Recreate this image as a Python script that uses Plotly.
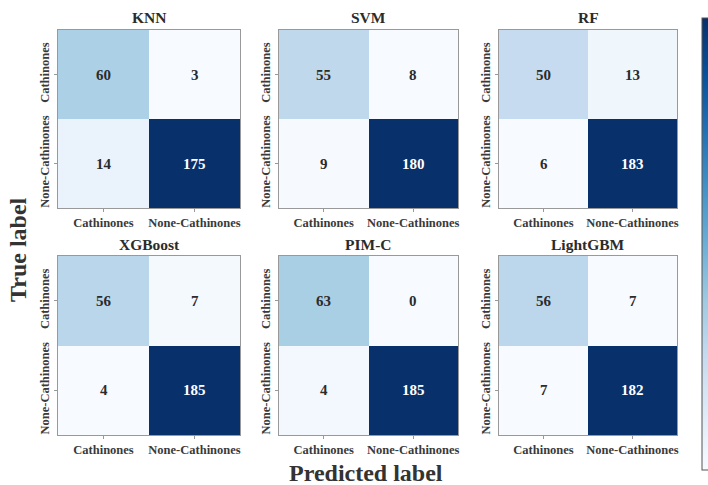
import plotly.graph_objects as go

# Confusion matrices (rows: true label, columns: predicted label)
classes = ["Cathinones", "None-Cathinones"]
models = ["KNN", "SVM", "RF", "XGBoost", "PIM-C", "LightGBM"]
cm_knn = [[60, 3], [14, 175]]
cm_svm = [[55, 8], [9, 180]]
cm_rf = [[50, 13], [6, 183]]
cm_xgb = [[56, 7], [4, 185]]
cm_pimc = [[63, 0], [4, 185]]
cm_lgbm = [[56, 7], [7, 182]]
matrices = [cm_knn, cm_svm, cm_rf, cm_xgb, cm_pimc, cm_lgbm]

W, H = 708, 485
FONT = "Liberation Serif"
blues = ["#f7fbff", "#deebf7", "#c6dbef", "#9ecae1", "#6baed6",
         "#4292c6", "#2171b5", "#08519c", "#08306b"]
colorscale = [[i / (len(blues) - 1), c] for i, c in enumerate(blues)]

# panel boxes in pixels: (left, right, top, bottom)
cols = [(58, 240), (279, 458), (499, 677)]
rows = [(30, 208), (256, 435)]

fig = go.Figure()
annotations = []
layout_axes = {}

for k, (name, cm) in enumerate(zip(models, matrices)):
    r, c = divmod(k, 3)
    x0, x1 = cols[c]
    y0, y1 = rows[r]
    ax = "" if k == 0 else str(k + 1)
    flat = [v for row in cm for v in row]
    zmin, zmax = min(flat), max(flat)
    trace = go.Heatmap(
        z=cm, x=classes, y=classes,
        colorscale=colorscale, zmin=zmin, zmax=zmax,
        xaxis="x" + ax, yaxis="y" + ax,
        showscale=(k == 0), hoverinfo="skip",
    )
    if k == 0:
        trace.colorbar = dict(
            x=702 / W, xanchor="left", xref="paper", xpad=0,
            y=1 - 18 / H, yanchor="top", yref="paper", ypad=0,
            lenmode="pixels", len=452, thickness=30,
            outlinewidth=1, outlinecolor="#555555",
            showticklabels=False, ticks="",
        )
    fig.add_trace(trace)

    axis_style = dict(
        showline=True, mirror=True, linecolor="#999999", linewidth=1,
        ticks="outside", ticklen=3, tickcolor="#999999",
        showgrid=False, zeroline=False,
        tickfont=dict(family=FONT, size=12.5, color="#3a3a3a", weight="bold"),
    )
    layout_axes["xaxis" + ax] = dict(
        axis_style, domain=[x0 / W, x1 / W], anchor="y" + ax,
        type="category",
    )
    layout_axes["yaxis" + ax] = dict(
        axis_style, domain=[1 - y1 / H, 1 - y0 / H], anchor="x" + ax,
        type="category", autorange="reversed", tickangle=-90,
    )

    # panel title
    annotations.append(dict(
        text=name, x=(x0 + x1) / 2 / W, y=1 - (y0 - 12) / H,
        xref="paper", yref="paper", xanchor="center", yanchor="middle",
        showarrow=False,
        font=dict(family=FONT, size=15.5, color="#2b2b2b", weight="bold"),
    ))
    # cell values
    thresh = (zmin + zmax) / 2
    for i, tl in enumerate(classes):
        for j, pl in enumerate(classes):
            v = cm[i][j]
            annotations.append(dict(
                text=str(v), x=pl, y=tl, xref="x" + ax, yref="y" + ax,
                showarrow=False,
                font=dict(family=FONT, size=15,
                          color="white" if v > thresh else "#2b2b2b",
                          weight="bold"),
            ))

annotations.append(dict(
    text="Predicted label", x=366 / W, y=1 - 473 / H,
    xref="paper", yref="paper", xanchor="center", yanchor="middle",
    showarrow=False,
    font=dict(family=FONT, size=24, color="#333333", weight="bold"),
))
annotations.append(dict(
    text="True label", x=18 / W, y=1 - 250 / H, textangle=-90,
    xref="paper", yref="paper", xanchor="center", yanchor="middle",
    showarrow=False,
    font=dict(family=FONT, size=24, color="#333333", weight="bold"),
))

fig.update_layout(
    width=W, height=H,
    margin=dict(l=0, r=0, t=0, b=0, autoexpand=False),
    paper_bgcolor="white", plot_bgcolor="white",
    annotations=annotations,
    **layout_axes,
)

fig.write_html("out.html")
